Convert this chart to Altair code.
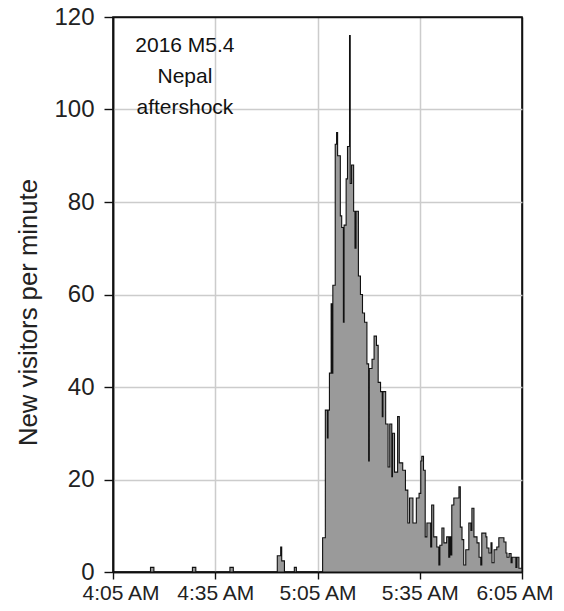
import altair as alt
import pandas as pd

# minutes after 4:05 AM and new visitors per minute (step series)
minutes = [0, 11, 12, 23.3, 24.3, 34.3, 35.3, 48.2, 49.2, 49.5, 50.3, 53.2, 53.8,
           61.5, 62.3, 62.9, 63.1, 63.5, 64.0, 64.2, 64.5, 65.2, 65.6, 65.9, 66.7,
           67.1, 67.6, 67.8, 68.4, 68.8, 69.4, 69.6, 70.0, 70.6, 71.0, 71.3, 72.0,
           72.6, 73.2, 73.8, 74.5, 75.0, 75.2, 76.0, 76.6, 77.3, 77.8, 78.5, 79.0,
           79.2, 80.0, 80.7, 81.2, 81.8, 82.0, 82.6, 83.5, 84.0, 85.0, 85.8, 86.5,
           87.0, 88.0, 89.0, 89.8, 90.3, 90.6, 91.1, 91.6, 92.1, 93.2, 93.5, 94.1,
           95.0, 95.6, 95.9, 96.5, 97.1, 97.9, 98.5, 98.8, 99.1, 99.4, 100.0, 101.5,
           101.9, 102.4, 102.9, 103.5, 104.4, 105.0, 105.3, 105.9, 106.8, 107.4,
           107.9, 108.2, 109.4, 109.7, 110.3, 110.9, 111.2, 111.8, 112.6, 113.2,
           114.7, 115.3, 115.6, 116.2, 116.8, 117.1, 118.2, 118.5, 119.1, 120]
visitors = [0, 1, 0, 1, 0, 1, 0, 3.5, 5.4, 2.4, 0, 1, 0,
            7.4, 35, 29, 35, 43, 58, 43, 62, 92.5, 95, 90, 77,
            74.5, 54, 75, 85, 92, 116, 84, 88, 78, 70, 78, 64,
            60, 56, 54, 45, 24, 44, 46, 51, 49, 41, 39, 33.6,
            39, 32, 22.7, 32, 20.6, 30, 21.6, 33.6, 23.6, 22, 17.7, 10.6,
            16, 10.6, 16, 17, 24, 25, 22, 7.6, 10.6, 5.4, 14.5, 7.6,
            5.4, 1.5, 5.8, 9.5, 6.3, 7.6, 3.2, 7.6, 3.7, 14.5, 16, 18.4,
            9.7, 7, 1.5, 4.8, 10.6, 9, 13.8, 7.6, 6.3, 3.2,
            1.5, 8.4, 7.6, 5.2, 4.1, 6.3, 2, 4.8, 5.4, 7.4,
            6.5, 4.1, 3.2, 4, 2, 3.2, 1, 3.2, 0.8, 0.8]

tick_minutes = [0, 30, 60, 90, 120]
tick_labels = ["4:05 AM", "4:35 AM", "5:05 AM", "5:35 AM", "6:05 AM"]
y_ticks = [0, 20, 40, 60, 80, 100, 120]

annotation = "2016 M5.4\nNepal\naftershock"
ann_x = [21.1]
ann_y = [116.1]

df = pd.DataFrame({"m": minutes, "v": visitors})
label_map = "{" + ",".join(f"'{m}':'{l}'" for m, l in zip(tick_minutes, tick_labels)) + "}"

FONT = "Liberation Sans"
EDGE_GRID = {"condition": {"test": "datum.value === 0 || datum.value === 120",
                           "value": "#111111"},
             "value": "#cccccc"}

x_enc = alt.X("m:Q", scale=alt.Scale(domain=[0, 120], nice=False),
              axis=alt.Axis(values=tick_minutes, title=None,
                            labelExpr=f"{label_map}[datum.value + '']",
                            labelFontSize=21, labelPadding=3, tickSize=7,
                            labelFlush=1, labelFlushOffset=31,
                            labelOverlap=False,
                            grid=True, gridColor=EDGE_GRID))
y_enc = alt.Y("v:Q", scale=alt.Scale(domain=[0, 120], nice=False),
              axis=alt.Axis(values=y_ticks, title="New visitors per minute",
                            labelFontSize=24, labelPadding=10, tickSize=9,
                            labelFlush=False, labelOverlap=False,
                            titleFontSize=25.7, titleX=-85, titleY=295,
                            titleAngle=270, titleAlign="center",
                            titleBaseline="middle",
                            titleFontWeight="normal", grid=True,
                            gridColor=EDGE_GRID))

area = alt.Chart(df).mark_area(
    interpolate="step-after", color="#9a9a9a", stroke="#111111",
    strokeWidth=1.1, strokeJoin="miter"
).encode(x=x_enc, y=y_enc)

text = alt.Chart(pd.DataFrame({"m": ann_x, "v": ann_y, "t": [annotation]})).mark_text(
    font=FONT, fontSize=21, lineBreak="\n", lineHeight=31, baseline="top",
    align="center", color="#111111"
).encode(x="m:Q", y="v:Q", text="t:N")

chart = alt.layer(area, text).properties(
    width=409, height=555,
    autosize=alt.AutoSizeParams(type="none"),
    padding={"left": 105, "top": 9, "right": 34, "bottom": 33}
).configure_axis(
    labelFont=FONT, titleFont=FONT, labelColor="#222222", titleColor="#222222",
    domainColor="#111111", domainWidth=1.6, tickColor="#111111", tickWidth=1.4,
    gridWidth=1.5
).configure_view(
    stroke="#111111", strokeWidth=1.6
)

chart.save("out.html", embed_options={"renderer": "svg", "actions": False})
